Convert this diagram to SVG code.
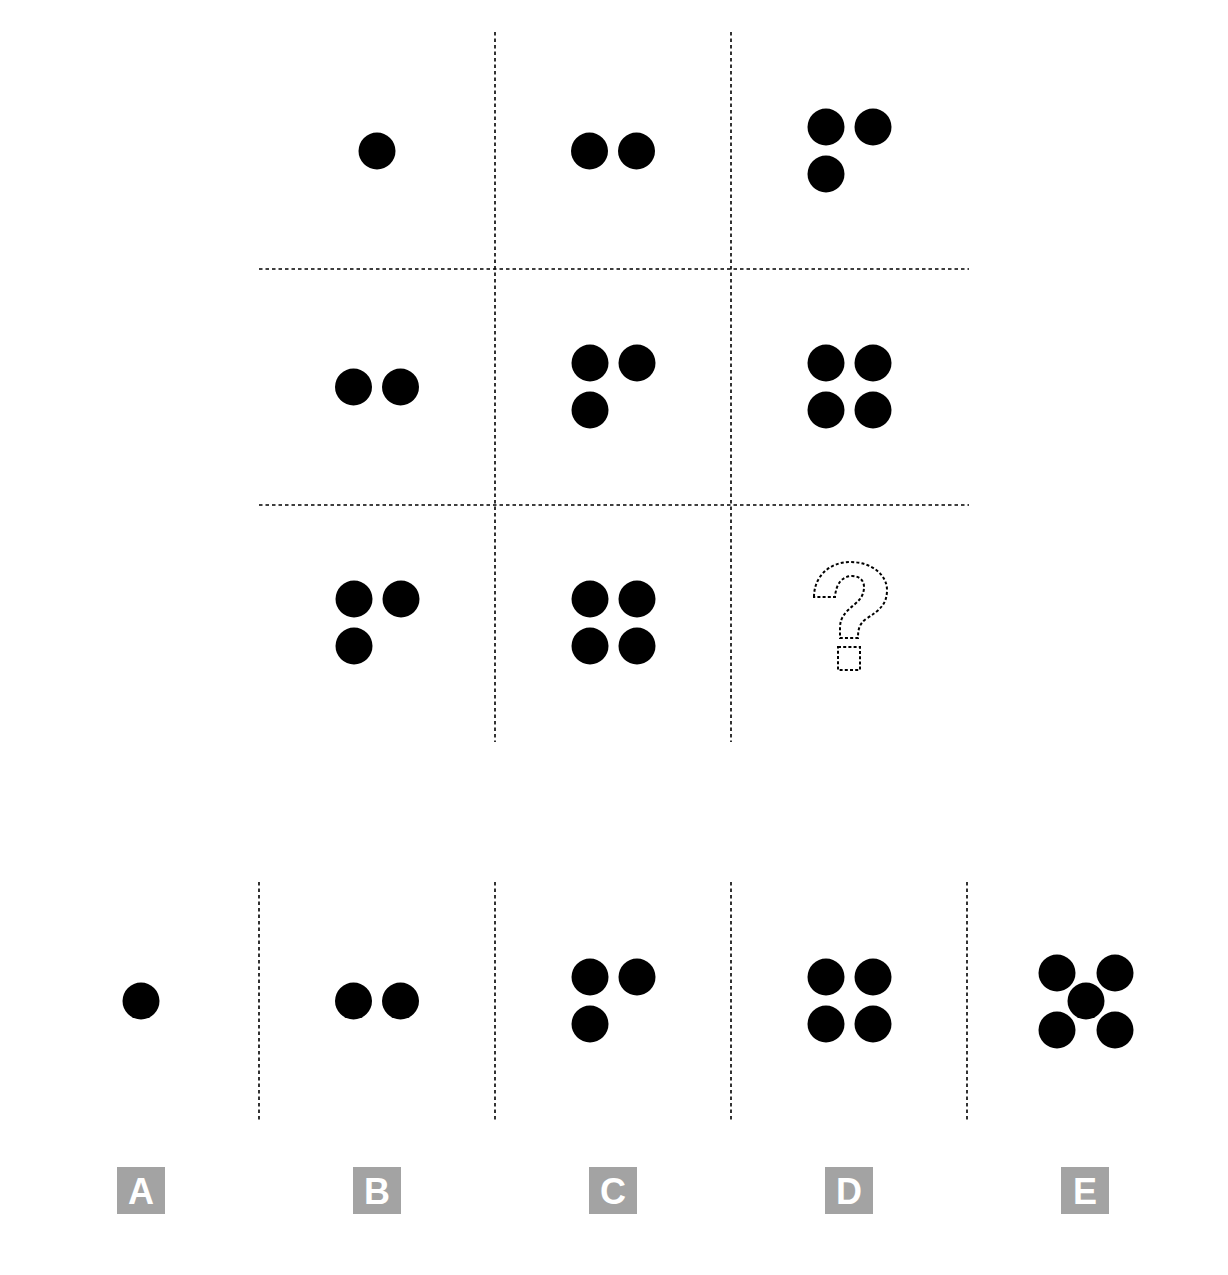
<svg xmlns="http://www.w3.org/2000/svg" width="1228" height="1275" viewBox="0 0 1228 1275">
<style>
.g{stroke:#000;stroke-width:1.6;stroke-dasharray:3.5 3;fill:none}
.d{fill:#000}
.lb{fill:#a3a3a3}
.lt{fill:#fff;font-family:"Liberation Sans",Arial,sans-serif;font-weight:bold;font-size:36px;text-anchor:middle}
.q{fill:none;stroke:#000;stroke-width:2;stroke-dasharray:3 2.2}
</style>
<rect width="1228" height="1275" fill="#fff"/>
<g id="grid">
<line class="g" x1="495" y1="32" x2="495" y2="742"/>
<line class="g" x1="731" y1="32" x2="731" y2="742"/>
<line class="g" x1="259" y1="269" x2="969" y2="269"/>
<line class="g" x1="259" y1="505" x2="969" y2="505"/>
<line class="g" x1="259" y1="882" x2="259" y2="1120"/>
<line class="g" x1="495" y1="882" x2="495" y2="1120"/>
<line class="g" x1="731" y1="882" x2="731" y2="1120"/>
<line class="g" x1="967" y1="882" x2="967" y2="1120"/>
</g>
<defs>
<g id="one"><circle class="d" cx="0" cy="0" r="18.5"/></g>
<g id="two"><circle class="d" cx="-23.5" cy="0" r="18.5"/><circle class="d" cx="23.5" cy="0" r="18.5"/></g>
<g id="three"><circle class="d" cx="-23.5" cy="-23.5" r="18.5"/><circle class="d" cx="23.5" cy="-23.5" r="18.5"/><circle class="d" cx="-23.5" cy="23.5" r="18.5"/></g>
<g id="four"><circle class="d" cx="-23.5" cy="-23.5" r="18.5"/><circle class="d" cx="23.5" cy="-23.5" r="18.5"/><circle class="d" cx="-23.5" cy="23.5" r="18.5"/><circle class="d" cx="23.5" cy="23.5" r="18.5"/></g>
</defs>
<g id="cell11"><use href="#one" x="377" y="151"/></g>
<g id="cell12"><use href="#two" x="613" y="151"/></g>
<g id="cell13"><use href="#three" x="849.5" y="150.5"/></g>
<g id="cell21"><use href="#two" x="377" y="387"/></g>
<g id="cell22"><use href="#three" x="613.5" y="386.5"/></g>
<g id="cell23"><use href="#four" x="849.5" y="386.5"/></g>
<g id="cell31"><use href="#three" x="377.5" y="622.5"/></g>
<g id="cell32"><use href="#four" x="613.5" y="622.5"/></g>
<g id="cell33">
<path class="q" d="M814 597 C814 576 830 562 850 562 C872 562 887 575 887 590 C887 604 880 610 866 619 C859 624 858 630 858 638 L840 638 L840 628 C840 616 847 611 855 604 C861 599 864 594 864 587 C864 580 859 576 852 576 C843 576 836 583 835 597 Z"/>
<rect class="q" x="838" y="647" width="22" height="23"/>
</g>
<g id="optA"><use href="#one" x="141" y="1001"/><rect class="lb" x="117" y="1167" width="48" height="47"/><text class="lt" x="141" y="1204">A</text></g>
<g id="optB"><use href="#two" x="377" y="1001"/><rect class="lb" x="353" y="1167" width="48" height="47"/><text class="lt" x="377" y="1204">B</text></g>
<g id="optC"><use href="#three" x="613.5" y="1000.5"/><rect class="lb" x="589" y="1167" width="48" height="47"/><text class="lt" x="613" y="1204">C</text></g>
<g id="optD"><use href="#four" x="849.5" y="1000.5"/><rect class="lb" x="825" y="1167" width="48" height="47"/><text class="lt" x="849" y="1204">D</text></g>
<g id="optE">
<circle class="d" cx="1057" cy="973" r="18.5"/><circle class="d" cx="1115" cy="973" r="18.5"/><circle class="d" cx="1086" cy="1001" r="18.5"/><circle class="d" cx="1057" cy="1030" r="18.5"/><circle class="d" cx="1115" cy="1030" r="18.5"/>
<rect class="lb" x="1061" y="1167" width="48" height="47"/><text class="lt" x="1085" y="1204">E</text></g>
</svg>
